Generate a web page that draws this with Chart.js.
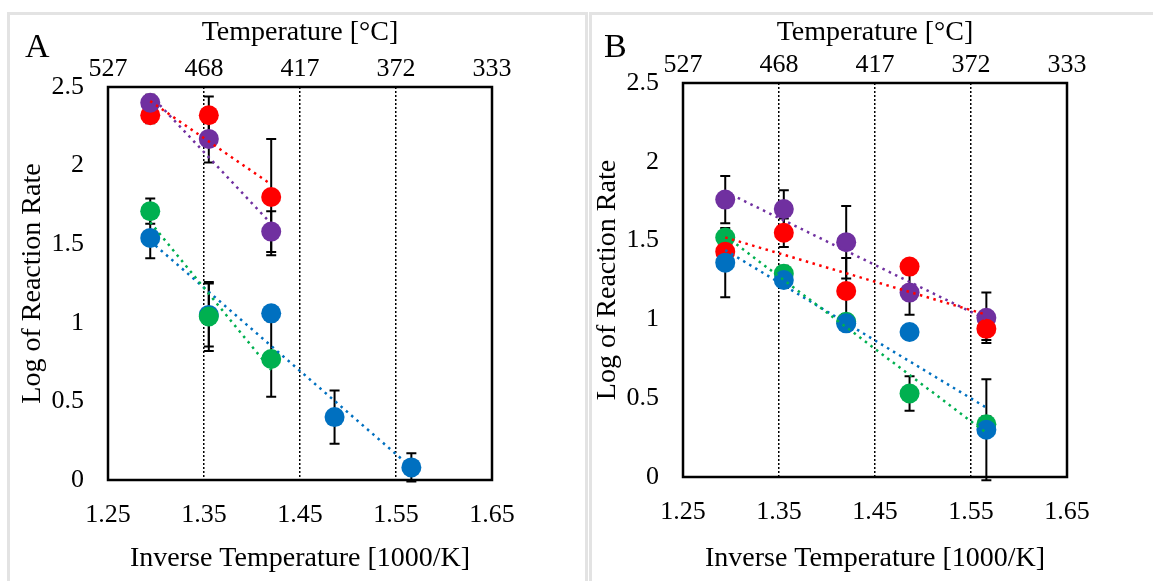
<!DOCTYPE html>
<html>
<head>
<meta charset="utf-8">
<script src="https://cdn.jsdelivr.net/npm/chart.js@4.4.1/dist/chart.umd.min.js"></script>
<style>
body{margin:0;background:#fff;width:1153px;height:581px;overflow:hidden;position:relative}
.frame{position:absolute;top:12px;height:600px;border:3px solid #e3e3e3;border-bottom:none;box-sizing:border-box}
#fa{left:7px;width:581px}
#fb{left:589px;width:600px}
canvas{position:absolute;top:0}
#ca{left:0}
#cb{left:575px}
</style>
</head>
<body>
<div class="frame" id="fa"></div>
<div class="frame" id="fb"></div>
<canvas id="ca" width="580" height="581"></canvas>
<canvas id="cb" width="578" height="581"></canvas>
<script>
// inverse temperature of the runs [1000/K]
const invT = [1.294, 1.355, 1.42, 1.486, 1.566];
const xTicks = [1.25, 1.35, 1.45, 1.55, 1.65];
const xTickLabels = ['1.25', '1.35', '1.45', '1.55', '1.65'];
const tempLabels = ['527', '468', '417', '372', '333'];
const yTicks = [0, 0.5, 1, 1.5, 2, 2.5];
const yTickLabels = ['0', '0.5', '1', '1.5', '2', '2.5'];

// panel A
const aRed = [2.32, 2.32, 1.80];
const aRedErr = [0.05, 0.12, 0.37];
const aPurple = [2.40, 2.17, 1.58];
const aPurpleErr = [0.05, 0.15, 0.13];
const aGreen = [1.71, 1.04, 0.77];
const aGreenErr = [0.08, 0.22, 0.24];
const aBlue = [1.54, 1.05, 1.06, 0.40, 0.08];
const aBlueErr = [0.13, 0.20, 0.0, 0.17, 0.09];
const aRedTrend = [2.41, 1.88];
const aPurpleTrend = [2.45, 1.63];
const aGreenTrend = [1.64, 0.70];
const aBlueTrend = [1.52, 0.08];

// panel B
const bRed = [1.43, 1.55, 1.18, 1.335, 0.94];
const bRedErr = [0.05, 0.09, 0.21, 0.0, 0.07];
const bPurple = [1.76, 1.70, 1.49, 1.17, 1.01];
const bPurpleErr = [0.15, 0.12, 0.23, 0.14, 0.16];
const bGreen = [1.52, 1.29, 0.985, 0.53, 0.335];
const bGreenErr = [0.04, 0.05, 0.05, 0.11, 0.05];
const bBlue = [1.36, 1.25, 0.975, 0.92, 0.30];
const bBlueErr = [0.22, 0.05, 0.0, 0.0, 0.32];
const bRedTrend = [1.52, 1.03];
const bPurpleTrend = [1.81, 1.00];
const bGreenTrend = [1.53, 0.28];
const bBlueTrend = [1.44, 0.44];

const RED = '#ff0000', PURPLE = '#7030a0', GREEN = '#00b050', BLUE = '#0070c0';
const serif = "'Liberation Serif', 'Times New Roman', serif";

function pts(ys) {
    return ys.map((y, i) => ({ x: invT[i], y: y }));
}

function trend(ends, n) {
    return [{ x: invT[0], y: ends[0] }, { x: invT[n - 1], y: ends[1] }];
}

function markers(ys, color, order) {
    return { data: pts(ys), backgroundColor: color, borderWidth: 0, pointRadius: 10, order: order };
}

function line(ends, n, color, order) {
    return { data: trend(ends, n), showLine: true, borderColor: color, borderWidth: 2.5,
        borderDash: [2.5, 4.5], pointRadius: 0, order: order };
}

// error bars, box round the plot and the panel letter
const extras = {
    id: 'extras',
    beforeDatasetsDraw(chart, args, opts) {
        const ctx = chart.ctx, xs = chart.scales.x, ys = chart.scales.y;
        ctx.save();
        ctx.strokeStyle = '#000';
        ctx.lineWidth = 2;
        opts.bars.forEach(b => {
            b.ys.forEach((y, i) => {
                if (!b.errs[i]) return;
                const px = xs.getPixelForValue(invT[i]);
                const top = ys.getPixelForValue(y + b.errs[i]);
                const bot = ys.getPixelForValue(y - b.errs[i]);
                ctx.beginPath();
                ctx.moveTo(px, top); ctx.lineTo(px, bot);
                ctx.moveTo(px - 5, top); ctx.lineTo(px + 5, top);
                ctx.moveTo(px - 5, bot); ctx.lineTo(px + 5, bot);
                ctx.stroke();
            });
        });
        ctx.restore();
    },
    afterDraw(chart, args, opts) {
        const ctx = chart.ctx, a = chart.chartArea;
        ctx.save();
        ctx.strokeStyle = '#000';
        ctx.lineWidth = 2.5;
        ctx.strokeRect(a.left, a.top, a.right - a.left, a.bottom - a.top);
        ctx.fillStyle = '#000';
        ctx.font = '34px ' + serif;
        ctx.textBaseline = 'alphabetic';
        ctx.fillText(opts.letter, opts.lx, 57);
        ctx.restore();
    }
};

function makeChart(id, letter, lx, datasets, bars, topH, botH, padR) {
    new Chart(document.getElementById(id), {
        type: 'scatter',
        data: { datasets: datasets },
        plugins: [extras],
        options: {
            responsive: false,
            animation: false,
            devicePixelRatio: 1,
            layout: { padding: { left: 0, top: 0, bottom: 0, right: padR } },
            plugins: {
                legend: { display: false },
                tooltip: { enabled: false },
                extras: { letter: letter, lx: lx, bars: bars }
            },
            scales: {
                x: {
                    type: 'linear', position: 'bottom', min: 1.25, max: 1.65,
                    afterBuildTicks: s => { s.ticks = xTicks.map(v => ({ value: v })); },
                    afterFit: s => { s.height = botH; },
                    ticks: {
                        color: '#000', font: { family: serif, size: 26 }, padding: 20,
                        maxRotation: 0,
                        callback: (v, i) => xTickLabels[i]
                    },
                    grid: { color: '#000', lineWidth: 1.5, drawTicks: false },
                    border: { display: false, dash: [2, 2] },
                    title: { display: true, text: 'Inverse Temperature [1000/K]', color: '#000',
                        font: { family: serif, size: 28 }, padding: { top: 0, bottom: 6 } }
                },
                x2: {
                    type: 'linear', position: 'top', min: 1.25, max: 1.65,
                    afterBuildTicks: s => { s.ticks = xTicks.map(v => ({ value: v })); },
                    afterFit: s => { s.height = topH; },
                    ticks: {
                        color: '#000', font: { family: serif, size: 26 }, padding: 2,
                        maxRotation: 0,
                        callback: (v, i) => tempLabels[i]
                    },
                    grid: { display: false, drawTicks: false },
                    border: { display: false },
                    title: { display: true, text: 'Temperature [°C]', color: '#000',
                        font: { family: serif, size: 28 }, padding: { top: 16, bottom: 0 } }
                },
                y: {
                    type: 'linear', position: 'left', min: 0, max: 2.5,
                    afterBuildTicks: s => { s.ticks = yTicks.map(v => ({ value: v })); },
                    afterFit: s => { s.width = 108; },
                    ticks: {
                        color: '#000', font: { family: serif, size: 26 }, padding: 24,
                        callback: (v, i) => yTickLabels[i]
                    },
                    grid: { display: false, drawTicks: false },
                    border: { display: false },
                    title: { display: true, text: 'Log of Reaction Rate', color: '#000',
                        font: { family: serif, size: 28 }, padding: { top: 16, bottom: 0 } }
                }
            }
        }
    });
}

makeChart('ca', 'A', 25, [
    line(aRedTrend, 3, RED, 0),
    line(aPurpleTrend, 3, PURPLE, 1),
    line(aGreenTrend, 3, GREEN, 2),
    line(aBlueTrend, 5, BLUE, 3),
    markers(aPurple, PURPLE, 10),
    markers(aGreen, GREEN, 11),
    markers(aRed, RED, 12),
    markers(aBlue, BLUE, 13)
], [
    { ys: aRed, errs: aRedErr }, { ys: aPurple, errs: aPurpleErr },
    { ys: aGreen, errs: aGreenErr }, { ys: aBlue, errs: aBlueErr }
], 87, 101, 88);

makeChart('cb', 'B', 29, [
    line(bRedTrend, 5, RED, 0),
    line(bPurpleTrend, 5, PURPLE, 1),
    line(bGreenTrend, 5, GREEN, 2),
    line(bBlueTrend, 5, BLUE, 3),
    markers(bBlue, BLUE, 10),
    markers(bRed, RED, 11),
    markers(bGreen, GREEN, 12),
    markers(bPurple, PURPLE, 13)
], [
    { ys: bRed, errs: bRedErr }, { ys: bPurple, errs: bPurpleErr },
    { ys: bGreen, errs: bGreenErr }, { ys: bBlue, errs: bBlueErr }
], 83, 104, 86);
</script>
</body>
</html>
